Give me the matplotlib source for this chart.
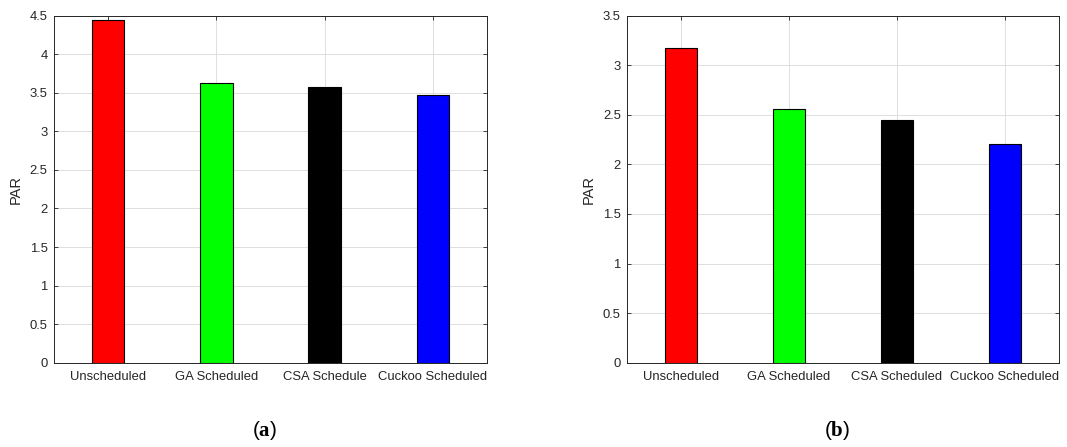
import matplotlib
matplotlib.use("Agg")
import matplotlib.pyplot as plt

# ========== DATA ==========
labels_a = ["Unscheduled", "GA Scheduled", "CSA Schedule", "Cuckoo Scheduled"]
par_a = [4.44, 3.63, 3.57, 3.47]

labels_b = ["Unscheduled", "GA Scheduled", "CSA Scheduled", "Cuckoo Scheduled"]
par_b = [3.17, 2.56, 2.445, 2.21]

bar_colors = ["#ff0000", "#00ff00", "#000000", "#0000ff"]
yticks_a = [0, 0.5, 1, 1.5, 2, 2.5, 3, 3.5, 4, 4.5]
yticks_b = [0, 0.5, 1, 1.5, 2, 2.5, 3, 3.5]

plt.rcParams["font.family"] = ["Liberation Sans", "DejaVu Sans"]
plt.rcParams["mathtext.fontset"] = "custom"
plt.rcParams["mathtext.rm"] = "Liberation Serif"
plt.rcParams["mathtext.bf"] = "Liberation Serif:bold"

W, H = 1067, 447
fig = plt.figure(figsize=(W / 100, H / 100), dpi=100)


def par_panel(rect, labels, values, yticks, tag, tag_x):
    ax = fig.add_axes(rect)
    x = list(range(1, len(values) + 1))
    ax.bar(x, values, width=0.3, color=bar_colors, edgecolor="black",
           linewidth=0.8, zorder=3)
    ax.set_xlim(0.5, len(values) + 0.5)
    ax.set_ylim(yticks[0], yticks[-1])
    ax.set_xticks(x)
    ax.set_xticklabels(labels)
    ax.set_yticks(yticks)
    ax.set_yticklabels([f"{t:g}" for t in yticks])
    ax.set_ylabel("PAR", fontsize=10.5, color="#262626", labelpad=5)
    ax.grid(True, color="#dedede", linewidth=0.7, zorder=0)
    ax.tick_params(direction="in", length=3, width=0.6, labelsize=9.4,
                   colors="#262626", top=True, right=True)
    ax.tick_params(axis="x", pad=6)
    ax.tick_params(axis="y", pad=4.5)
    for s in ax.spines.values():
        s.set_color("#262626")
        s.set_linewidth(0.7)
    fig.text(tag_x / W, 1 - 431 / H, r"($\mathbf{" + tag + "}$)",
             ha="center", va="center", fontsize=15)
    return ax


# axes boxes in pixel coordinates: left, top, right, bottom
def rect_px(l, t, r, b):
    return [l / W, 1 - b / H, (r - l) / W, (b - t) / H]


par_panel(rect_px(54, 15.7, 487, 362.7), labels_a, par_a, yticks_a, "a", 265)
par_panel(rect_px(627, 15.7, 1059, 362.7), labels_b, par_b, yticks_b, "b", 837)

plt.savefig("out.png", dpi=100, facecolor="white")
